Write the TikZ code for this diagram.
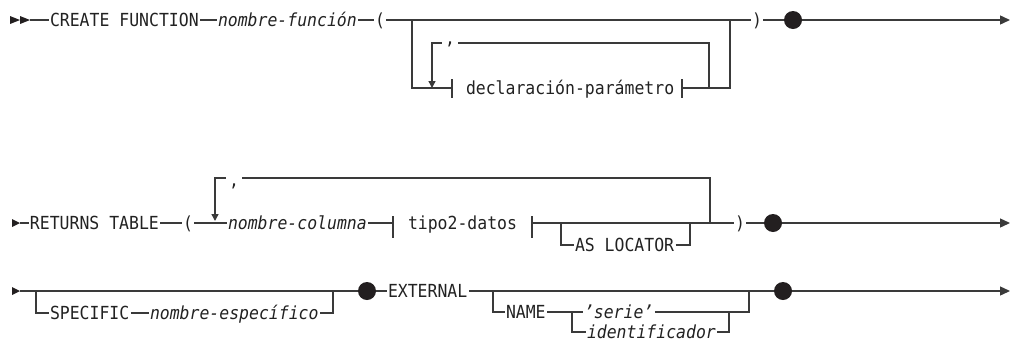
\documentclass[tikz,border=0pt]{standalone}
\usepackage{fontspec}
\usetikzlibrary{arrows.meta}
\newfontfamily\rr[FakeStretch=0.915]{DejaVu Sans Mono}
\definecolor{lc}{HTML}{3A3A3A}
\definecolor{tc}{HTML}{222222}
\definecolor{dc}{HTML}{231F20}
\begin{document}
\begin{tikzpicture}[x=1pt,y=-1pt,
  ln/.style={line width=1.4pt, draw=lc},
  endarr/.style={-{Triangle[length=10pt,width=9pt]}},
  downarr/.style={-{Triangle[length=7pt,width=7pt]}},
  kw/.style={inner sep=0pt, outer xsep=1.5pt, outer ysep=0pt, text height=13pt, text depth=0pt, anchor=west, font=\rr\fontsize{18}{20}\selectfont, text=tc},
  varkw/.style={kw, font=\rr\itshape\fontsize{18}{20}\selectfont},
  commanode/.style={inner sep=0pt, inner xsep=3pt, anchor=base, font=\rr\fontsize{18}{20}\selectfont, text=tc},
  stopdot/.style={circle, fill=dc, minimum size=18pt, inner sep=0pt},
  ]
\useasboundingbox (0,0) rectangle (1013,341);
% ---------- row 1 ----------
\fill[dc] (10,16) -- (20,20) -- (10,24) -- cycle;
\fill[dc] (20,16) -- (30,20) -- (20,24) -- cycle;
\coordinate (s1) at (30,20);
\node[kw] (cf) at (48.5,20) {CREATE FUNCTION};
\node[varkw] (nf) at (216.5,20) {nombre-función};
\node[kw] (lp1) at (373.5,20) {(};
\node[kw] (rp1) at (750.5,20) {)};
\node[stopdot] (d1) at (793,20) {};
\coordinate (e1) at (1010,20);
\draw[ln] (s1) -- (cf.west);
\draw[ln] (cf.east) -- (nf.west);
\draw[ln] (nf.east) -- (lp1.west);
\draw[ln] (lp1.east) -- (rp1.west);
\draw[ln] (rp1.east) -- (d1);
\draw[ln,endarr] (d1) -- (e1);
\coordinate (b1l) at (412,20);
\coordinate (b1r) at (730,20);
\coordinate (ba1) at (452,88);
\coordinate (bb1) at (682,88);
\node[kw] (dp) at (464.5,88) {declaración-parámetro};
\draw[ln] (b1l) |- (ba1);
\draw[ln] ([yshift=9pt]ba1) -- ([yshift=-10pt]ba1);
\draw[ln] ([yshift=9pt]bb1) -- ([yshift=-10pt]bb1);
\draw[ln] (bb1) -| (b1r);
\coordinate (l1l) at (432,43);
\coordinate (l1r) at (709,43);
\node[commanode] (cm1) at (450,44) {,};
\draw[ln] (l1r |- bb1) -- (l1r) -- (cm1.east |- l1r);
\draw[ln,downarr] (cm1.west |- l1l) -- (l1l) -- (l1l |- ba1);
% ---------- row 2 ----------
\fill[dc] (12,219) -- (20,223) -- (12,227) -- cycle;
\coordinate (s2) at (20,223);
\node[kw] (rt) at (28.5,223) {RETURNS TABLE};
\node[kw] (lp2) at (181.5,223) {(};
\node[varkw] (nc) at (226.5,223) {nombre-columna};
\coordinate (ba2) at (393,223);
\node[kw] (td) at (406.5,223) {tipo2-datos};
\coordinate (bb2) at (532,223);
\node[kw] (rp2) at (733.5,223) {)};
\node[stopdot] (d2) at (773,223) {};
\coordinate (e2) at (1010,223);
\draw[ln] (s2) -- (rt.west);
\draw[ln] (rt.east) -- (lp2.west);
\draw[ln] (lp2.east) -- (nc.west);
\draw[ln] (nc.east) -- (ba2);
\draw[ln] ([yshift=7pt]ba2) -- ([yshift=-15pt]ba2);
\draw[ln] ([yshift=7pt]bb2) -- ([yshift=-15pt]bb2);
\draw[ln] (bb2) -- (rp2.west);
\draw[ln] (rp2.east) -- (d2);
\draw[ln,endarr] (d2) -- (e2);
\coordinate (a2l) at (561,223);
\coordinate (a2r) at (690,223);
\node[kw] (al) at (573.5,245) {AS LOCATOR};
\draw[ln] (a2l) |- (al.west);
\draw[ln] (al.east) -| (a2r);
\coordinate (l2l) at (215,178);
\coordinate (l2r) at (710,178);
\node[commanode] (cm2) at (234,186) {,};
\draw[ln] (l2r |- bb2) -- (l2r) -- (cm2.east |- l2r);
\draw[ln,downarr] (cm2.west |- l2l) -- (l2l) -- ([yshift=2pt]l2l |- s2);
% ---------- row 3 ----------
\fill[dc] (12,287) -- (20,291) -- (12,295) -- cycle;
\coordinate (s3) at (20,291);
\node[stopdot] (d3) at (367,291) {};
\node[kw] (ex) at (386.5,291) {EXTERNAL};
\node[stopdot] (d4) at (783,291) {};
\coordinate (e3) at (1010,291);
\draw[ln] (s3) -- (d3);
\draw[ln] (d3) -- (ex.west);
\draw[ln] (ex.east) -- (d4);
\draw[ln,endarr] (d4) -- (e3);
\coordinate (p3l) at (36,291);
\coordinate (p3r) at (333,291);
\node[kw] (sp) at (48.5,313) {SPECIFIC};
\node[varkw] (ns) at (148.5,313) {nombre-específico};
\draw[ln] (p3l) |- (sp.west);
\draw[ln] (sp.east) -- (ns.west);
\draw[ln] (ns.east) -| (p3r);
\coordinate (n3l) at (493,291);
\coordinate (n3r) at (749,291);
\node[kw] (nm) at (504.5,312) {NAME};
\node[varkw] (se) at (582.5,312) {’serie’\hspace{5pt}};
\node[varkw] (id) at (585.5,332) {identificador};
\draw[ln] (n3l) |- (nm.west);
\draw[ln] (nm.east) -- (se.west);
\draw[ln] (se.east) -| (n3r);
\coordinate (i3l) at (572,312);
\coordinate (i3r) at (729,312);
\draw[ln] (i3l) |- (id.west);
\draw[ln] (id.east) -| (i3r);
\end{tikzpicture}
\end{document}
